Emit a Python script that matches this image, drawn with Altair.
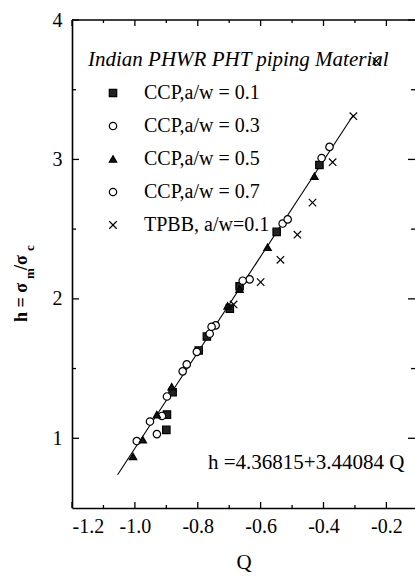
import altair as alt
import pandas as pd

# ---- data ----
series_names = ["CCP,a/w = 0.1", "CCP,a/w = 0.3", "CCP,a/w = 0.5", "CCP,a/w = 0.7", "TPBB, a/w=0.1"]

ccp01_q = [-0.900, -0.898, -0.880, -0.797, -0.771, -0.698, -0.667, -0.549, -0.413]
ccp01_h = [1.06, 1.17, 1.33, 1.63, 1.73, 1.93, 2.09, 2.48, 2.96]

ccp03_q = [-0.994, -0.930, -0.914, -0.848, -0.803, -0.762, -0.743, -0.635, -0.530, -0.406]
ccp03_h = [0.98, 1.03, 1.16, 1.48, 1.62, 1.75, 1.81, 2.14, 2.54, 3.01]

ccp05_q = [-1.006, -0.975, -0.930, -0.883, -0.705, -0.667, -0.578, -0.429]
ccp05_h = [0.87, 0.99, 1.17, 1.37, 1.95, 2.07, 2.37, 2.88]

ccp07_q = [-0.952, -0.898, -0.835, -0.756, -0.657, -0.514, -0.381]
ccp07_h = [1.12, 1.30, 1.53, 1.80, 2.13, 2.57, 3.09]

tpbb_q = [-0.686, -0.600, -0.537, -0.483, -0.435, -0.371, -0.305, -0.232]
tpbb_h = [1.96, 2.12, 2.28, 2.46, 2.69, 2.98, 3.31, 3.705]

fit_q = [-1.055, -0.305]
fit_h = [0.738, 3.319]

x_major = [-1.2, -1.0, -0.8, -0.6, -0.4, -0.2]
x_minor = [-1.1, -0.9, -0.7, -0.5, -0.3]
y_major = [1, 2, 3, 4]
y_minor = [1.5, 2.5, 3.5]

equation_text = "h =4.36815+3.44084 Q"
legend_title = "Indian PHWR PHT piping Material"

# ---- build tables ----
rows = []
for name, qs, hs in zip(series_names,
                        [ccp01_q, ccp03_q, ccp05_q, ccp07_q, tpbb_q],
                        [ccp01_h, ccp03_h, ccp05_h, ccp07_h, tpbb_h]):
    for q, h in zip(qs, hs):
        rows.append({"Q": q, "h": h, "series": name})
pts = pd.DataFrame(rows)
fit = pd.DataFrame({"Q": fit_q, "h": fit_h})

W, H = 343, 488
FONT = "Liberation Serif"
xscale = alt.Scale(domain=[-1.2, -0.109], nice=False, zero=False)
yscale = alt.Scale(domain=[0.5, 4.0], nice=False, zero=False)

xaxis = alt.Axis(values=x_major, labelExpr="(datum.value < 0 ? '-' : '') + format(abs(datum.value), '.1f')",
                 ticks=False, grid=False, domainColor="black", domainWidth=1.6,
                 labelFont=FONT, labelFontSize=20, labelColor="black", labelPadding=8,
                 title="Q", titleFont=FONT, titleFontSize=21, titleFontWeight="normal",
                 titleColor="black", titlePadding=15)
yaxis = alt.Axis(values=y_major, format="d", ticks=False, grid=False,
                 domainColor="black", domainWidth=1.6,
                 labelFont=FONT, labelFontSize=20, labelColor="black", labelPadding=10,
                 title=None)

legend = alt.Legend(title=legend_title, orient="none", legendX=16, legendY=29,
                    titleFont=FONT, titleFontStyle="italic", titleFontWeight="normal",
                    titleFontSize=21, titleColor="black", titlePadding=13, titleLimit=400,
                    labelFont=FONT, labelFontSize=20, labelColor="black",
                    symbolSize=55, symbolOffset=15, labelOffset=21, rowPadding=13,
                    padding=0, symbolStrokeWidth=1.2, symbolStrokeColor="black")

shape_range = ["square", "circle", "triangle-up", "circle", "M-1,-1L1,1M-1,1L1,-1"]
fill_range = ["#222222", "white", "#111111", "white", "transparent"]
stroke_range = ["black", "black", "black", "black", "black"]

X = alt.X("Q:Q", scale=xscale, axis=xaxis)
Y = alt.Y("h:Q", scale=yscale, axis=yaxis)

line = alt.Chart(fit).mark_line(color="black", strokeWidth=1.1).encode(x=X, y=Y)

points = alt.Chart(pts).mark_point(size=55, strokeWidth=1.2, opacity=1).encode(
    x=X, y=Y,
    shape=alt.Shape("series:N", scale=alt.Scale(domain=series_names, range=shape_range), legend=legend),
    fill=alt.Fill("series:N", scale=alt.Scale(domain=series_names, range=fill_range), legend=legend),
    stroke=alt.Stroke("series:N", scale=alt.Scale(domain=series_names, range=stroke_range), legend=legend),
)

def xticks(vals, length, top):
    df = pd.DataFrame({"v": vals})
    if top:
        yv, y2v = 0, length
    else:
        yv, y2v = H, H - length
    return alt.Chart(df).mark_rule(color="black", strokeWidth=1.3).encode(
        x=alt.X("v:Q", scale=xscale, axis=xaxis), y=alt.value(yv), y2=alt.value(y2v))

def yticks(vals, length, right):
    df = pd.DataFrame({"v": vals})
    if right:
        xv, x2v = W, W - length
    else:
        xv, x2v = 0, length
    return alt.Chart(df).mark_rule(color="black", strokeWidth=1.3).encode(
        y=alt.Y("v:Q", scale=yscale, axis=yaxis), x=alt.value(xv), x2=alt.value(x2v))

top_frame = alt.Chart(pd.DataFrame({"a": [0]})).mark_rule(color="black", strokeWidth=1.6).encode(
    x=alt.value(0), x2=alt.value(W), y=alt.value(0))

tick_layers = [
    xticks(x_major, 6, False), xticks(x_minor, 3, False),
    xticks(x_major, 6, True), xticks(x_minor, 3, True),
    yticks(y_major, 7, False), yticks(y_minor, 4, False),
    yticks(y_major, 7, True), yticks(y_minor, 4, True),
]

eq = alt.Chart(pd.DataFrame({"a": [0]})).mark_text(
    text=equation_text, align="left", baseline="middle", font=FONT, fontSize=21, color="black"
).encode(x=alt.value(136), y=alt.value(443))

def ytitle_piece(txt, xv, yv, size):
    return alt.Chart(pd.DataFrame({"a": [0]})).mark_text(
        text=txt, angle=270, align="left", baseline="alphabetic", font=FONT,
        fontSize=size, fontWeight="bold", color="black"
    ).encode(x=alt.value(xv), y=alt.value(yv))

ytitle = [
    ytitle_piece("h = \u03c3", -45, 302, 18),
    ytitle_piece("m", -38, 259, 13),
    ytitle_piece("/\u03c3", -45, 250, 18),
    ytitle_piece("c", -38, 231, 13),
]

chart = alt.layer(line, points, top_frame, *tick_layers, eq, *ytitle).properties(
    width=W, height=H,
    autosize=alt.AutoSizeParams(type="none"),
    padding={"left": 72, "top": 20, "right": 0, "bottom": 68},
).configure_view(stroke=None)

chart.save("out.html", embed_options={"renderer": "svg", "actions": False})
